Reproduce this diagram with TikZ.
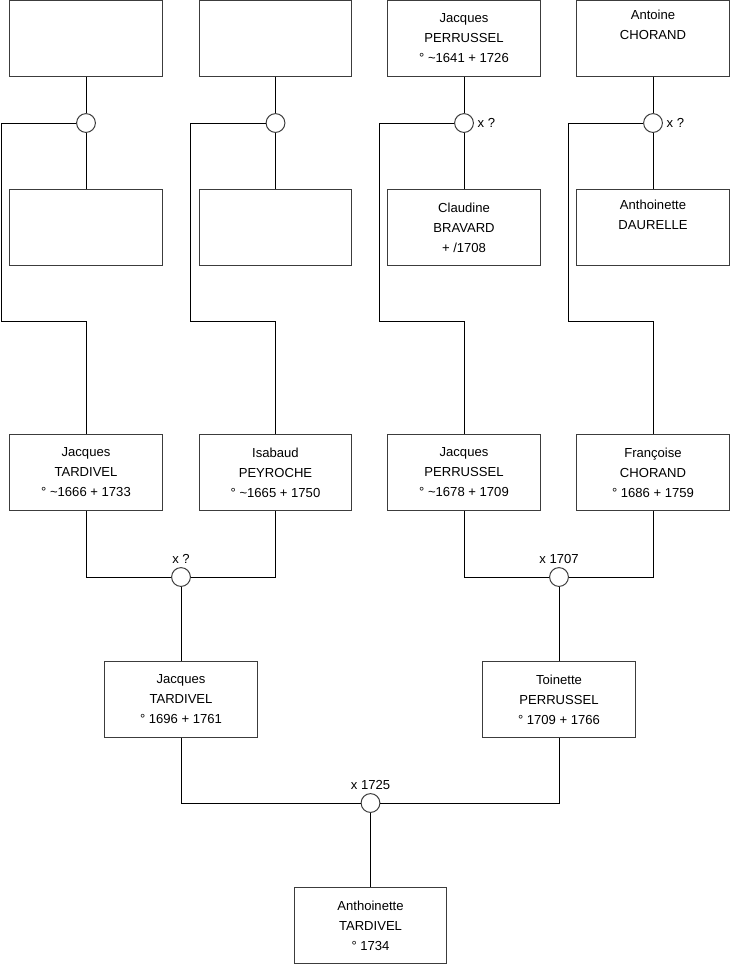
\documentclass[tikz,border=0pt]{standalone}
\usepackage{fontspec}
\setmainfont{Liberation Sans}
\usetikzlibrary{positioning}
\definecolor{boxgray}{RGB}{60,60,60}

\begin{document}
\begin{tikzpicture}[
  x=0.025cm, y=-0.025cm,
  font=\fontsize{9.3}{14.2}\selectfont,
  box/.style = {rectangle, draw=boxgray, fill=white, align=center,
                minimum width=3.8cm, minimum height=1.9cm, inner sep=0pt,
                line width=0.7pt},
  mar/.style = {circle, draw=boxgray, fill=white, minimum size=0.47cm,
                inner sep=0pt, line width=0.7pt},
  ln/.style  = {draw=black, line width=0.7pt},
  lab/.style = {font=\fontsize{9.3}{11}\selectfont, inner sep=2.5pt}
]
\useasboundingbox (0,0) rectangle (740,975);

% --- Arrière-grands-parents --------------------------------------------------
\node[box] (u1)  at (86,38)    {};
\node[box] (u2)  at (275.5,38) {};
\node[box] (jpe) at (464,38)   {Jacques\\ PERRUSSEL\\ ° \textasciitilde1641 + 1726};
\node[box] (ach) at (653,38)   {Antoine\\ CHORAND\\ \strut};

\node[box] (u3)  at (86,227.5)    {};
\node[box] (u4)  at (275.5,227.5) {};
\node[box] (cbr) at (464,227.5)   {Claudine\\ BRAVARD\\ + /1708};
\node[box] (ada) at (653,227.5)   {Anthoinette\\ DAURELLE\\ \strut};

% --- Mariages du haut --------------------------------------------------------
\node[mar] (m1) at (86,123) {};
\node[mar] (m2) at (275.5,123) {};
\node[mar, label={[lab]right:x ?}] (m3) at (464,123) {};
\node[mar, label={[lab]right:x ?}] (m4) at (653,123) {};

% --- Grands-parents ----------------------------------------------------------
\node[box] (jta) at (86,472.5)    {Jacques\\ TARDIVEL\\ ° \textasciitilde1666 + 1733};
\node[box] (ipe) at (275.5,472.5) {Isabaud\\ PEYROCHE\\ ° \textasciitilde1665 + 1750};
\node[box] (jpp) at (464,472.5)   {Jacques\\ PERRUSSEL\\ ° \textasciitilde1678 + 1709};
\node[box] (fch) at (653,472.5)   {Françoise\\ CHORAND\\ ° 1686 + 1759};

\node[mar, label={[lab]above:x ?}]    (m5) at (181,577) {};
\node[mar, label={[lab]above:x 1707}] (m6) at (559,577) {};

% --- Parents -----------------------------------------------------------------
\node[box] (jtd) at (181,699.5) {Jacques\\ TARDIVEL\\ ° 1696 + 1761};
\node[box] (tpe) at (559,699.5) {Toinette\\ PERRUSSEL\\ ° 1709 + 1766};

\node[mar, label={[lab]above:x 1725}] (m7) at (370.5,803) {};

% --- Enfant ------------------------------------------------------------------
\node[box] (atd) at (370.5,925.5) {Anthoinette\\ TARDIVEL\\ ° 1734};

% --- Coudes des lignes de descendance ----------------------------------------
\coordinate (k1) at (1.5,321);
\coordinate (k2) at (190,321);
\coordinate (k3) at (379,321);
\coordinate (k4) at (568,321);

% --- Liens -------------------------------------------------------------------
\draw[ln] (u1)  -- (m1) -- (u3);
\draw[ln] (u2)  -- (m2) -- (u4);
\draw[ln] (jpe) -- (m3) -- (cbr);
\draw[ln] (ach) -- (m4) -- (ada);

\draw[ln] (m1.west) -| (k1) -| (jta.north);
\draw[ln] (m2.west) -| (k2) -| (ipe.north);
\draw[ln] (m3.west) -| (k3) -| (jpp.north);
\draw[ln] (m4.west) -| (k4) -| (fch.north);

\draw[ln] (jta.south) |- (m5.west);
\draw[ln] (ipe.south) |- (m5.east);
\draw[ln] (m5.south) -- (jtd.north);
\draw[ln] (jpp.south) |- (m6.west);
\draw[ln] (fch.south) |- (m6.east);
\draw[ln] (m6.south) -- (tpe.north);

\draw[ln] (jtd.south) |- (m7.west);
\draw[ln] (tpe.south) |- (m7.east);
\draw[ln] (m7.south) -- (atd.north);

\end{tikzpicture}
\end{document}
